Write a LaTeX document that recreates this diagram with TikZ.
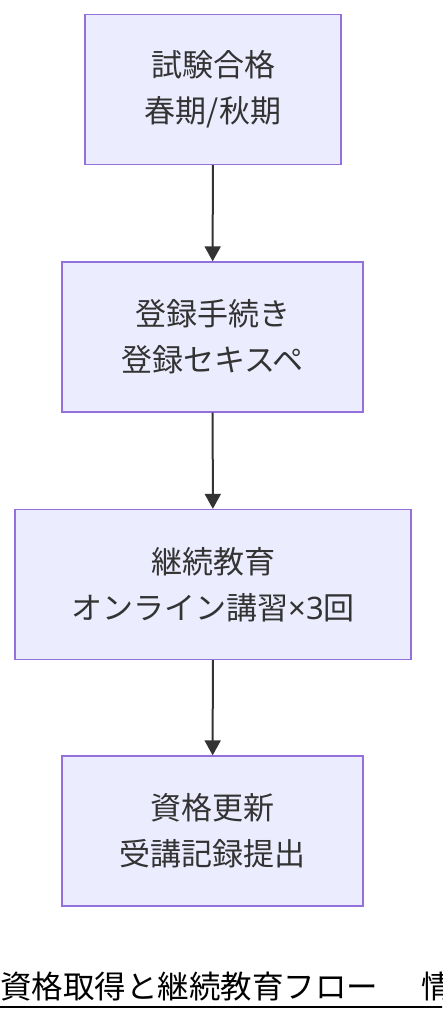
\documentclass[tikz,border=0pt]{standalone}
\usepackage{fontspec}
\setmainfont{Noto Sans CJK JP}
\newfontfamily\latinsans{Noto Sans}
\usepackage{tikz}
\usetikzlibrary{arrows.meta}

\definecolor{boxfill}{HTML}{ECECFF}
\definecolor{boxline}{HTML}{9370DB}
\definecolor{ink}{HTML}{333333}

\begin{document}
\begin{tikzpicture}[x=1pt,y=-1pt,
    stage/.style={draw=boxline,fill=boxfill,line width=1.3pt,text=ink,
        align=center,minimum height=150pt,inner sep=0pt,
        font=\fontsize{31}{46}\selectfont},
    flow/.style={draw=ink,line width=2pt,-{Triangle[length=15pt,width=16pt]}}]
                \useasboundingbox (0,0) rectangle (442,1020);
                \clip (0,0) rectangle (442,1020);

                \node[stage,minimum width=256pt] (exam) at (213,89.5) {試験合格\\春期/秋期};
                \node[stage,minimum width=301pt] (regist) at (212.5,337) {登録手続き\\登録セキスペ};
                \node[stage,minimum width=396pt] (study) at (213,584.5) {継続教育\\オンライン講習{\latinsans ×3}回};
                \node[stage,minimum width=301pt] (renew) at (212.5,831) {資格更新\\受講記録提出};

                \draw[flow] (exam) -- (regist);
                \draw[flow] (regist) -- (study);
                \draw[flow] (study) -- (renew);

                % caption, cut at the right edge
                \node[anchor=base west,inner sep=0pt,text=black,font=\fontsize{31.5}{36}\selectfont]
                    (title) at (0,998) {資格取得と継続教育フロー　\hspace{12pt}情};
                \draw[line width=1.8pt] ([yshift=-9pt]title.base west) -- ([yshift=-9pt]title.base east);
            \end{tikzpicture}
\end{document}
